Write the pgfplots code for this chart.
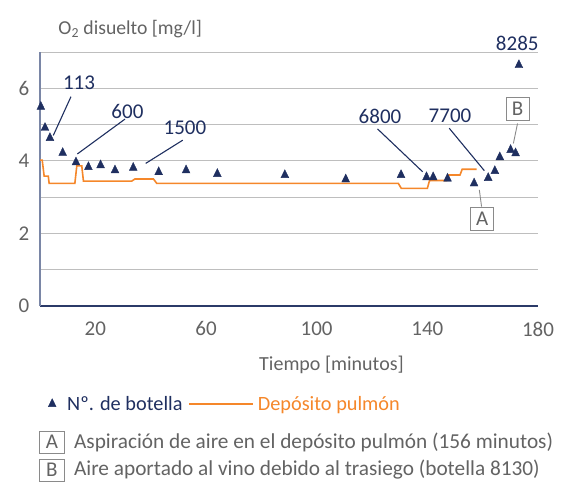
\documentclass[border=0pt]{standalone}
\usepackage{fontspec}
\setmainfont{Carlito}
\usepackage{pgfplots}
\pgfplotsset{compat=1.18}
\definecolor{navy}{HTML}{1F2F60}
\definecolor{orng}{HTML}{F5872A}
\definecolor{txtgray}{HTML}{636363}
\definecolor{gridgray}{HTML}{BEBEBE}
\definecolor{yaxiscol}{HTML}{7A86A6}
\definecolor{xaxiscol}{HTML}{2B3A68}
\definecolor{boxgray}{HTML}{8A8A8A}
\newcommand{\fs}[1]{\fontsize{#1bp}{#1bp}\selectfont}
\newcommand{\Pt}[2]{([shift={(#1bp,-#2bp)}]tl)}
\pgfplotsset{
  mylinelegend/.style={legend image code/.code={\draw[##1] (0bp,0bp) -- (64bp,0bp); \path[draw=none] (0bp,0bp) -- (66.5bp,0bp);}},
  mymarklegend/.style={legend image code/.code={\path[draw=none] (0bp,0bp) -- (23bp,0bp); \path[##1, draw=none, only marks] plot coordinates {(10bp,0bp)};}}
}
\begin{document}
\begin{tikzpicture}
\begin{axis}[name=ax, scale only axis, width=498bp, height=254bp,
  xmin=0, xmax=180, ymin=0, ymax=7,
  axis x line=bottom, axis y line=left, axis line style={-},
  x axis line style={xaxiscol, line width=1.2bp},
  y axis line style={yaxiscol, line width=1.2bp},
  xtick={20,60,100,140,180}, ytick={0,2,4,6}, minor ytick={1,3,5,7},
  ymajorgrids, yminorgrids,
  major grid style={gridgray, line width=0.9bp},
  minor grid style={gridgray, line width=0.9bp},
  major tick length=0pt, minor tick length=0pt,
  tick label style={font=\fs{21}, text=txtgray, inner sep=0pt},
  yticklabel style={xshift=-10.5bp},
  xticklabel style={yshift=-15.5bp},
  /pgf/number format/assume math mode=true,
  clip=false,
  reverse legend,
  legend cell align=left,
  legend style={at={(0.004,-0.386)}, anchor=west, draw=none, fill=none, inner sep=0pt,
    font=\fs{20.3}, legend columns=2,
    /tikz/every even column/.append style={column sep=4bp}},
]
\coordinate (bl) at (rel axis cs:0,0);
\addplot[orng, line width=1.6bp, mylinelegend] coordinates {
(0,4.02) (0.8,4.02) (1.5,3.58) (3.0,3.58) (3.3,3.38) (12.6,3.38) (13.3,3.86) (15.1,3.86)
(15.7,3.44) (33.1,3.44) (34.3,3.50) (41.0,3.50) (42.2,3.38) (129.5,3.38) (130.6,3.24)
(140.0,3.24) (140.8,3.46) (147.0,3.46) (147.8,3.61) (151.8,3.61) (152.6,3.77) (157.8,3.77)
};
\addlegendentry{\textcolor{orng}{Depósito pulmón}}
\addplot[only marks, mark=triangle*, mark size=5.3bp, mymarklegend,
  mark options={fill=navy, draw=navy, xscale=0.85}] coordinates {
(0.3,5.49) (1.8,4.91) (3.6,4.63) (8.2,4.22) (13.0,3.96) (17.5,3.83) (21.9,3.88)
(27.1,3.74) (33.7,3.81) (42.9,3.69) (52.8,3.74) (64.1,3.64) (88.5,3.61) (110.5,3.49)
(130.5,3.61) (139.7,3.55) (142.1,3.55) (147.3,3.51) (156.9,3.38) (162.0,3.53)
(164.4,3.72) (166.2,4.10) (170.1,4.30) (171.9,4.21) (173.1,6.64)
};
\addlegendentry{\textcolor{navy}{Nº. de botella}}
% annotations
\draw[navy, line width=1.1bp] (axis cs:11.2,5.77) -- (axis cs:4.8,4.70);
\draw[navy, line width=1.1bp] (axis cs:30.7,5.15) -- (axis cs:13.5,4.19);
\draw[navy, line width=1.1bp] (axis cs:51.6,4.57) -- (axis cs:38.2,3.93);
\draw[navy, line width=1.1bp] (axis cs:122.0,4.88) -- (axis cs:138.3,3.70);
\draw[navy, line width=1.1bp] (axis cs:147.9,4.90) -- (axis cs:160.6,3.73);
\draw[boxgray, line width=0.9bp] (axis cs:172.6,5.03) -- (axis cs:171.1,4.48);
\draw[boxgray, line width=0.9bp] (axis cs:158.8,3.20) -- (axis cs:159.6,2.74);
\node[navy, font=\fs{21}, inner sep=0pt] at (axis cs:14.1,6.14) {113};
\node[navy, font=\fs{21}, inner sep=0pt] at (axis cs:31.6,5.37) {600};
\node[navy, font=\fs{21}, inner sep=0pt] at (axis cs:52.4,4.90) {1500};
\node[navy, font=\fs{21}, inner sep=0pt] at (axis cs:122.9,5.23) {6800};
\node[navy, font=\fs{21}, inner sep=0pt] at (axis cs:148.2,5.23) {7700};
\node[navy, font=\fs{21}, inner sep=0pt] at (axis cs:172.5,7.25) {8285};
\node[draw=boxgray, line width=0.9bp, text=txtgray, font=\fs{21}, inner sep=0pt,
  minimum width=23bp, minimum height=23bp] at (axis cs:172.6,5.44) {B};
\node[draw=boxgray, line width=0.9bp, text=txtgray, font=\fs{21}, inner sep=0pt,
  minimum width=23bp, minimum height=23bp] at (axis cs:159.8,2.40) {A};
\end{axis}
\coordinate (tl) at ([shift={(-40bp,306bp)}]bl);
\node[anchor=west, text=txtgray, font=\fs{19.7}, inner sep=0pt] at \Pt{58.3}{29.3} {O\textsubscript{2} disuelto [mg/l]};
\node[text=txtgray, font=\fs{20}, inner sep=0pt] at \Pt{331.5}{365} {Tiempo [minutos]};
\node[draw=boxgray, line width=0.9bp, text=txtgray, font=\fs{21}, inner sep=0pt,
  minimum width=24.5bp, minimum height=22bp] at \Pt{51.9}{442} {A};
\node[anchor=west, text=txtgray, font=\fs{21.3}, inner sep=0pt] at \Pt{73.9}{442} {Aspiración de aire en el depósito pulmón (156 minutos)};
\node[draw=boxgray, line width=0.9bp, text=txtgray, font=\fs{21}, inner sep=0pt,
  minimum width=24.5bp, minimum height=22bp] at \Pt{51.9}{470} {B};
\node[anchor=west, text=txtgray, font=\fs{21.3}, inner sep=0pt] at \Pt{73.9}{470} {Aire aportado al vino debido al trasiego (botella 8130)};
\pgfresetboundingbox
\path[use as bounding box] (tl) rectangle \Pt{565}{482};
\end{tikzpicture}
\end{document}
